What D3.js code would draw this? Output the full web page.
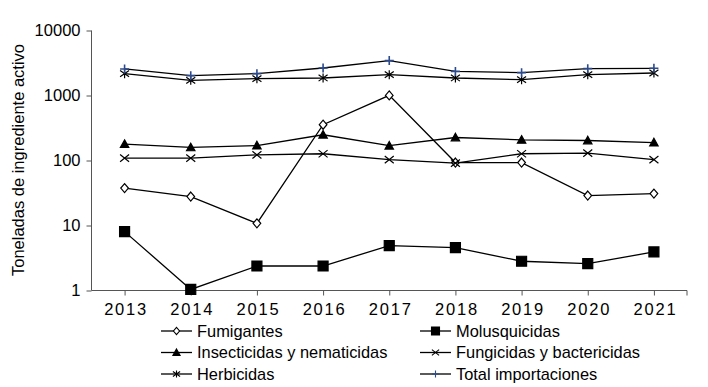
<!DOCTYPE html>
<html>
<head>
<meta charset="utf-8">
<script src="https://cdn.jsdelivr.net/npm/d3@7"></script>
<style>
  body { margin: 0; background: #fff; }
  text { font-family: "Liberation Sans", Arial, sans-serif; fill: #000; }
</style>
</head>
<body>
<svg id="chart" width="708" height="387"></svg>
<script>
// data (toneladas, log scale)
var years = [2013, 2014, 2015, 2016, 2017, 2018, 2019, 2020, 2021];
var fumigantes = [37.6, 27.9, 10.8, 355, 1004, 93, 93, 28.9, 31];
var molusquicidas = [8.05, 1.04, 2.38, 2.38, 4.9, 4.56, 2.82, 2.59, 3.92];
var insecticidas = [179, 159, 170, 249, 169, 226, 208, 203, 189];
var fungicidas = [109, 109, 122, 127, 103, 91, 127, 130, 103];
var herbicidas = [2170, 1710, 1815, 1860, 2090, 1860, 1750, 2090, 2220];
var totalImportaciones = [2560, 2020, 2170, 2650, 3440, 2350, 2245, 2590, 2620];
var yTicks = [1, 10, 100, 1000, 10000];
var seriesNames = ["Fumigantes", "Molusquicidas", "Insecticidas y nematicidas",
                   "Fungicidas y bactericidas", "Herbicidas", "Total importaciones"];
var markerTypes = ["diamond", "square", "triangle", "times", "asterisk", "plus"];

var series = [fumigantes, molusquicidas, insecticidas, fungicidas, herbicidas, totalImportaciones]
  .map(function(vals, i) {
    return { name: seriesNames[i], marker: markerTypes[i], values: vals };
  });

var plotLeft = 91.5, plotRight = 687, plotTop = 30.5, plotBottom = 290.5;

var svg = d3.select("#chart");

var x = d3.scalePoint().domain(years).range([plotLeft, plotRight]).padding(0.5);
var y = d3.scaleLog().domain([1, 10000]).range([plotBottom, plotTop]);

//marker shapes, s = half size
function markerPath(type, s) {
  var p = d3.path();
  if (type == "diamond") {
    p.moveTo(0, -s); p.lineTo(s * 0.85, 0); p.lineTo(0, s); p.lineTo(-s * 0.85, 0); p.closePath();
  } else if (type == "square") {
    p.rect(-s, -s, 2 * s, 2 * s);
  } else if (type == "triangle") {
    p.moveTo(0, -s); p.lineTo(s, s * 0.8); p.lineTo(-s, s * 0.8); p.closePath();
  } else if (type == "times") {
    p.moveTo(-s, -s * 0.8); p.lineTo(s, s * 0.8); p.moveTo(-s, s * 0.8); p.lineTo(s, -s * 0.8);
  } else if (type == "asterisk") {
    p.moveTo(-s, -s * 0.7); p.lineTo(s, s * 0.7); p.moveTo(-s, s * 0.7); p.lineTo(s, -s * 0.7);
    p.moveTo(0, -s); p.lineTo(0, s);
  } else if (type == "plus") {
    p.moveTo(-s, 0); p.lineTo(s, 0); p.moveTo(0, -s); p.lineTo(0, s);
  }
  return p.toString();
}
function markerFill(type) {
  if (type == "diamond") return "#fff";
  if (type == "square" || type == "triangle") return "#000";
  return "none";
}
function markerStroke(type) {
  return type == "plus" ? "#2c4a8c" : "#000";
}
function markerSize(type) {
  if (type == "square") return 5;
  if (type == "triangle") return 4.2;
  return 4.5;
}

// y axis
var yAxis = d3.axisLeft(y).tickValues(yTicks).tickFormat(d3.format("d")).tickSize(5).tickPadding(6);
var gy = svg.append("g").attr("transform", "translate(" + plotLeft + ",0)").call(yAxis);
gy.select(".domain").attr("stroke", "#555").attr("d", "M0," + plotTop + "V" + plotBottom);
gy.selectAll(".tick line").attr("stroke", "#555");
gy.selectAll("text").style("font-size", "16.5px").attr("fill", "#000");

// x axis
var xAxis = d3.axisBottom(x).tickSize(5).tickPadding(8);
var gx = svg.append("g").attr("transform", "translate(0," + plotBottom + ")").call(xAxis);
gx.select(".domain").attr("stroke", "#555").attr("d", "M" + plotLeft + ",0H" + plotRight + "V5");
gx.selectAll(".tick line").attr("stroke", "#555");
gx.selectAll("text").style("font-size", "16.5px").style("letter-spacing", "1.8px")
  .attr("dx", "1px").attr("fill", "#000");

// y title
svg.append("text")
  .attr("transform", "translate(24,160) rotate(-90)")
  .attr("text-anchor", "middle")
  .style("font-size", "16.5px")
  .text("Toneladas de ingrediente activo");

var line = d3.line()
  .x(function(d, i) { return x(years[i]); })
  .y(function(d) { return y(d); });

series.forEach(function(s) {
  var g = svg.append("g");
  g.append("path")
    .attr("d", line(s.values))
    .attr("fill", "none")
    .attr("stroke", "#000")
    .attr("stroke-width", 1.3);
  g.selectAll("path.mk")
    .data(s.values)
    .enter().append("path")
    .attr("class", "mk")
    .attr("transform", function(d, i) { return "translate(" + x(years[i]) + "," + y(d) + ")"; })
    .attr("d", markerPath(s.marker, markerSize(s.marker)))
    .attr("fill", markerFill(s.marker))
    .attr("stroke", markerStroke(s.marker))
    .attr("stroke-width", s.marker == "plus" ? 1.6 : 1.2);
});

// legend, two columns
var legX = [161, 420], legY = 331, legStep = 21.5;
var leg = svg.selectAll("g.legend")
  .data(series)
  .enter().append("g")
  .attr("class", "legend")
  .attr("transform", function(d, i) {
    return "translate(" + legX[i % 2] + "," + (legY + Math.floor(i / 2) * legStep) + ")";
  });
leg.append("line")
  .attr("x1", 0).attr("x2", 31).attr("y1", 0).attr("y2", 0)
  .attr("stroke", "#000").attr("stroke-width", 1.3);
leg.append("path")
  .attr("transform", "translate(15.5,0)")
  .attr("d", function(d) { return markerPath(d.marker, d.marker == "square" ? 4 : 3.6); })
  .attr("fill", function(d) { return markerFill(d.marker); })
  .attr("stroke", function(d) { return markerStroke(d.marker); })
  .attr("stroke-width", 1.1);
leg.append("text")
  .attr("x", 36)
  .attr("y", 0)
  .attr("dy", "0.35em")
  .style("font-size", "16.4px")
  .text(function(d) { return d.name; });
</script>
</body>
</html>
